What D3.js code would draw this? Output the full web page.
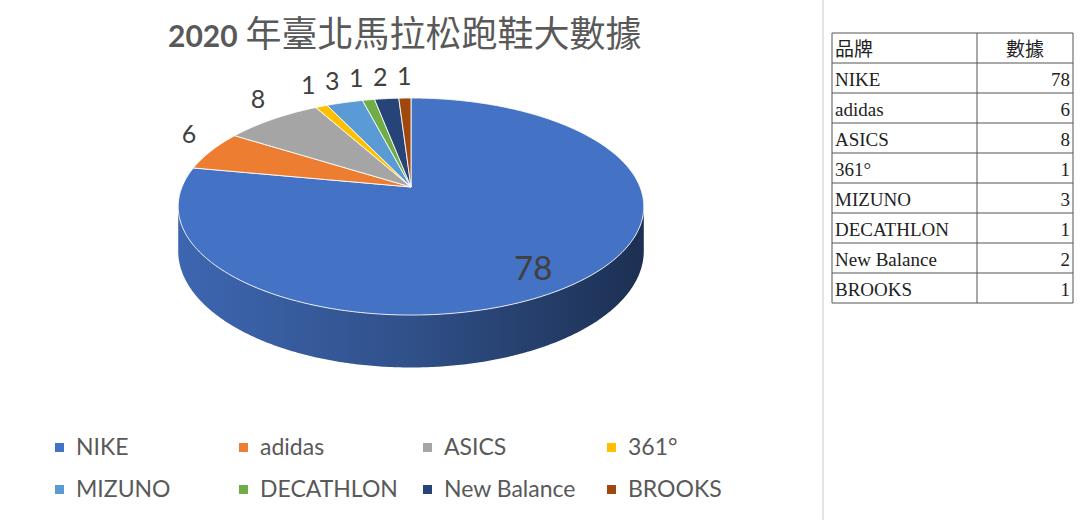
<!DOCTYPE html>
<html>
<head>
<meta charset="utf-8">
<script src="https://cdn.jsdelivr.net/npm/d3@7"></script>
<style>
  body { margin: 0; background: #fff; }
  svg { display: block; }
</style>
</head>
<body>
<svg id="chart"></svg>
<script>
// 資料
const brands = ['NIKE', 'adidas', 'ASICS', '361°', 'MIZUNO', 'DECATHLON', 'New Balance', 'BROOKS'];
const counts = [78, 6, 8, 1, 3, 1, 2, 1];
const colors = ['#4472C4', '#ED7D31', '#A5A5A5', '#FFC000', '#5B9BD5', '#70AD47', '#264478', '#9E480E'];
const tableHead = ['品牌', '數據'];
const titleYear = '2020';
const titleText = '年臺北馬拉松跑鞋大數據';

const [width, height] = [1080, 520];

let svg = d3.select('#chart')
  .attr('width', width)
  .attr('height', height)

let defs = svg.append('defs')

// 3D 投影參數 (透視)
const cx = 411, cy = 187, W = 229, K = 105, p = 0.18, T = 43;

function proj(theta, r, h) {
  let u = r * Math.sin(theta), v = -r * Math.cos(theta)
  let d = 1 - p * v
  return [cx + W * u / d, cy + (K * v + h) / d]
}

function arcPts(a0, a1, r, h) {
  let n = Math.max(2, Math.ceil(Math.abs(a1 - a0) / 0.01))
  return d3.range(n + 1).map(i => proj(a0 + (a1 - a0) * i / n, r, h))
}

let line = d3.line()
let colorScale = d3.scaleOrdinal().domain(d3.range(brands.length)).range(colors)

let drawData = d3.pie()
  .value(d => d)
  .sort(null)(counts)

// 側面 (只畫看得到的前半部)
const thR = Math.acos(-p), thL = 2 * Math.PI - thR

drawData.forEach(function(d) {
  let a0 = Math.max(d.startAngle, thR), a1 = Math.min(d.endAngle, thL)
  if (a1 <= a0) return
  let c = d3.color(colorScale(d.index))
  let gid = 'side' + d.index
  let grad = defs.append('linearGradient')
    .attr('id', gid)
    .attr('gradientUnits', 'userSpaceOnUse')
    .attr('x1', cx - W).attr('x2', cx + W).attr('y1', 0).attr('y2', 0)
  grad.append('stop').attr('offset', 0).attr('stop-color', c.darker(0.3))
  grad.append('stop').attr('offset', 0.5).attr('stop-color', c.darker(1.0))
  grad.append('stop').attr('offset', 1).attr('stop-color', c.darker(2.4))
  let pts = arcPts(a0, a1, 1, 0).concat(arcPts(a1, a0, 1, T))
  svg.append('path')
    .attr('d', line(pts) + 'Z')
    .attr('fill', 'url(#' + gid + ')')
})

// 頂面
svg.append('g')
  .selectAll('path')
  .data(drawData)
  .enter()
  .append('path')
  .attr('d', d => line([[cx, cy]].concat(arcPts(d.startAngle, d.endAngle, 1, 0))) + 'Z')
  .attr('fill', d => colorScale(d.index))
  .attr('stroke', '#fff')
  .attr('stroke-opacity', 0.85)
  .attr('stroke-width', 1)
  .attr('stroke-linejoin', 'round')

// 資料標籤
let labels = drawData.map(function(d) {
  let mid = (d.startAngle + d.endAngle) / 2
  let big = d.endAngle - d.startAngle > Math.PI
  let a = proj(mid, big ? 0.75 : 1.12, 0)
  return { d: d, big: big, x: a[0], y: big ? a[1] + 12 : a[1] - 14 }
})
// 避免重疊 (由右往左推)
let outs = labels.filter(l => !l.big).sort((a, b) => b.x - a.x)
for (let i = 1; i < outs.length; i++) {
  let prev = outs[i - 1], cur = outs[i]
  if (Math.abs(cur.y - prev.y) < 22 && cur.x > prev.x - 24) cur.x = prev.x - 24
}

svg.append('g')
  .selectAll('text')
  .data(labels)
  .enter()
  .append('text')
  .attr('x', l => l.x)
  .attr('y', l => l.y)
  .attr('text-anchor', 'middle')
  .attr('dominant-baseline', 'central')
  .style('font-family', 'Lato, "Open Sans", sans-serif')
  .style('font-size', l => l.big ? '33px' : '25px')
  .style('fill', '#404040')
  .text(l => l.d.data)

// 標題
let title = svg.append('text')
  .attr('x', 168)
  .attr('y', 47)
  .style('fill', '#595959')
title.append('tspan')
  .style('font-family', 'Lato, sans-serif')
  .style('font-weight', 'bold')
  .style('font-size', '30px')
  .text(titleYear)
title.append('tspan')
  .attr('dx', 8)
  .style('font-family', '"Noto Sans CJK TC", sans-serif')
  .style('font-size', '36px')
  .text(titleText)

// 圖例
let legend = svg.append('g')
  .selectAll('g')
  .data(brands)
  .enter()
  .append('g')
  .attr('transform', (d, i) => 'translate(' + (55 + (i % 4) * 184) + ',' + (455 + Math.floor(i / 4) * 42) + ')')
legend.append('rect')
  .attr('y', -12)
  .attr('width', 9)
  .attr('height', 9)
  .attr('fill', (d, i) => colorScale(i))
legend.append('text')
  .attr('x', 21)
  .style('font-family', 'Lato, sans-serif')
  .style('font-size', '23px')
  .style('fill', '#595959')
  .text(d => d)

// 分隔線
svg.append('line')
  .attr('x1', 823).attr('x2', 823)
  .attr('y1', 0).attr('y2', height)
  .attr('stroke', '#e2e2e2')
  .attr('stroke-width', 2)

// 右側表格
const tx0 = 832, tx1 = 977, tx2 = 1073, ty0 = 33, rowH = 30
let rows = [tableHead].concat(brands.map((b, i) => [b, counts[i]]))
let table = svg.append('g')
table.append('g')
  .selectAll('line')
  .data(d3.range(rows.length + 1))
  .enter()
  .append('line')
  .attr('x1', tx0).attr('x2', tx2)
  .attr('y1', i => ty0 + i * rowH).attr('y2', i => ty0 + i * rowH)
  .attr('stroke', '#555')
table.selectAll('.v')
  .data([tx0, tx1, tx2])
  .enter()
  .append('line')
  .attr('x1', d => d).attr('x2', d => d)
  .attr('y1', ty0).attr('y2', ty0 + rows.length * rowH)
  .attr('stroke', '#555')

let tr = table.selectAll('g.row')
  .data(rows)
  .enter()
  .append('g')
  .attr('transform', (d, i) => 'translate(0,' + (ty0 + i * rowH + 23) + ')')
tr.append('text')
  .attr('x', tx0 + 3)
  .style('font-family', (d, i) => i === 0 ? '"Noto Sans CJK TC", sans-serif' : '"Liberation Serif", serif')
  .style('font-size', '19px')
  .style('fill', '#222')
  .text(d => d[0])
tr.append('text')
  .attr('x', (d, i) => i === 0 ? (tx1 + tx2) / 2 : tx2 - 3)
  .attr('text-anchor', (d, i) => i === 0 ? 'middle' : 'end')
  .style('font-family', (d, i) => i === 0 ? '"Noto Sans CJK TC", sans-serif' : '"Liberation Serif", serif')
  .style('font-size', '19px')
  .style('fill', '#222')
  .text(d => d[1])
</script>
</body>
</html>
